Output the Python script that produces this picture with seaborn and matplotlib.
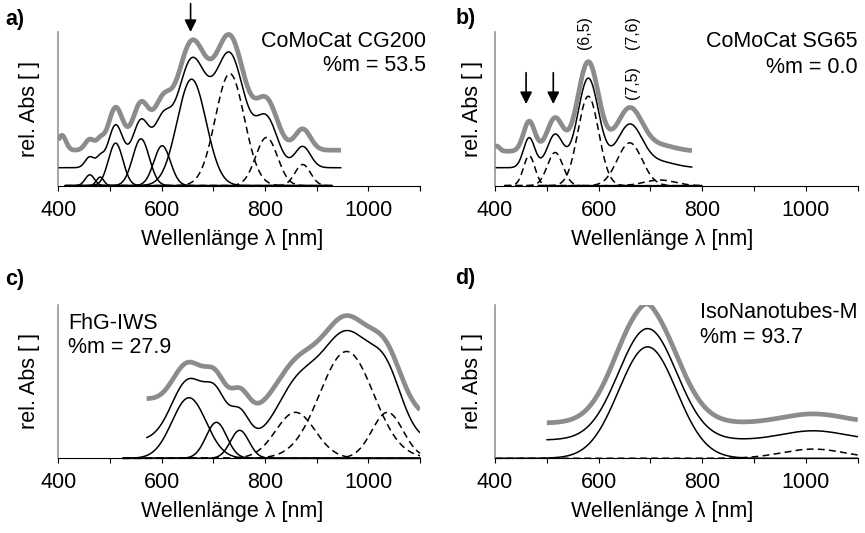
import numpy as np
import matplotlib
matplotlib.use("Agg")
import matplotlib.pyplot as plt
import seaborn as sns

# ---------------- data ----------------
wl_ticks = [400, 500, 600, 700, 800, 900, 1000, 1100]
wl_tick_labels = ["400", "", "600", "", "800", "", "1000", ""]

# Panel a: CoMoCat CG200 (Gaussian components: centre nm, height rel., width nm)
a_solid_center = [461, 481, 511, 560, 601, 658]
a_solid_height = [0.071, 0.056, 0.277, 0.305, 0.260, 0.693]
a_solid_width = [9, 7, 14, 16, 16, 28]
a_dash_center = [732, 803, 873]
a_dash_height = [0.729, 0.314, 0.138]
a_dash_width = [28, 21, 15]
a_fit_offset = 0.117
a_meas_offset = 0.114
a_extra_center = [407]
a_extra_height = [0.097]
a_extra_width = [7.8]
a_comp_range = [413, 930]
a_fit_range = [400, 947]

# Panel b: CoMoCat SG65
b_solid_center = []
b_solid_height = []
b_solid_width = []
b_dash_center = [466, 516, 580, 660, 718]
b_dash_height = [0.195, 0.216, 0.582, 0.279, 0.037]
b_dash_width = [11, 15, 20, 24, 30]
b_fit_offset = 0.117
b_meas_offset = 0.107
b_extra_center = [403]
b_extra_height = [0.034]
b_extra_width = [6]
b_comp_range = [418, 800]
b_fit_range = [400, 780]

# Panel c: FhG-IWS
c_solid_center = [653, 706, 751]
c_solid_height = [0.394, 0.234, 0.182]
c_solid_width = [33, 20, 18]
c_dash_center = [859, 958, 1037]
c_dash_height = [0.299, 0.695, 0.299]
c_dash_width = [38, 52, 30]
c_fit_offset = 0.117
c_meas_offset = 0.097
c_extra_center = [560, 800, 1100]
c_extra_height = [0.162, 0.071, 0.052]
c_extra_width = [40, 40, 40]
c_comp_range = [525, 1100]
c_fit_range = [571, 1100]

# Panel d: IsoNanotubes-M
d_solid_center = [694.5]
d_solid_height = [0.725]
d_solid_width = [56]
d_dash_center = [1014]
d_dash_height = [0.060]
d_dash_width = [60]
d_fit_offset = 0.119
d_meas_offset = 0.110
d_extra_center = [650, 694]
d_extra_height = [0.045, 0.025]
d_extra_width = [40, 12]
d_comp_range = [400, 1100]
d_fit_range = [500, 1100]

names = ["CoMoCat CG200", "CoMoCat SG65", "FhG-IWS", "IsoNanotubes-M"]
pct_m = ["53.5", "0.0", "27.9", "93.7"]
letters = ["a)", "b)", "c)", "d)"]
chir_labels = ["(6,5)", "(7,5)", "(7,6)"]
chir_x = [573.5, 664.5, 664.5]
arrow_a_x = [656]
arrow_b_x = [460, 512.5]

# ---------------- style ----------------
sns.set_theme(style="ticks")
plt.rcParams["font.family"] = ["Liberation Sans", "DejaVu Sans"]
plt.rcParams["text.color"] = "black"
plt.rcParams["axes.labelcolor"] = "black"
plt.rcParams["xtick.color"] = "black"

FS = 15.5
W, H = 865, 533
fig = plt.figure(figsize=(W / 100, H / 100), dpi=100)


def fx(px):
    return px / W


def fy(py):
    return 1 - py / H


GRAY = "#8c8c8c"


def gauss(x, c, h, w):
    return h * np.exp(-((x - c) ** 2) / (2.0 * w ** 2))


def draw_panel(ax, sc, sh, sw, dc, dh, dw, fit_off, meas_off, ec, eh, ew,
               comp_range, fit_range, right_col):
    xc = np.arange(comp_range[0], comp_range[1] + 0.5, 1.0)
    xf = np.arange(fit_range[0], fit_range[1] + 0.5, 1.0)
    fit = np.full_like(xf, fit_off)
    for c, h, w in zip(sc, sh, sw):
        sns.lineplot(x=xc, y=gauss(xc, c, h, w), ax=ax, color="black",
                     lw=1.1, errorbar=None, clip_on=False)
        fit = fit + gauss(xf, c, h, w)
    for c, h, w in zip(dc, dh, dw):
        sns.lineplot(x=xc, y=gauss(xc, c, h, w), ax=ax, color="black",
                     lw=1.1, errorbar=None, linestyle=(0, (4.5, 2.8)),
                     clip_on=False)
        fit = fit + gauss(xf, c, h, w)
    sns.lineplot(x=xf, y=fit, ax=ax, color="black", lw=1.1, errorbar=None)
    meas = fit + meas_off
    for c, h, w in zip(ec, eh, ew):
        meas = meas + gauss(xf, c, h, w)
    sns.lineplot(x=xf, y=meas, ax=ax, color=GRAY, lw=3.4, errorbar=None,
                 solid_capstyle="butt", solid_joinstyle="round")

    ax.set_xlim(400, 1100)
    ax.set_ylim(0, 1.0)
    ax.set_xticks(wl_ticks)
    ax.set_xticklabels(wl_tick_labels)
    ax.tick_params(axis="x", direction="out", length=3.6, width=0.8,
                   pad=6.5, labelsize=FS, colors="black")
    ax.tick_params(axis="y", left=False, labelleft=False)
    ax.set_yticks([])
    for s in ["top", "right"]:
        ax.spines[s].set_visible(False)
    ax.spines["bottom"].set_color("black")
    ax.spines["bottom"].set_linewidth(0.8)
    ax.spines["left"].set_color(GRAY)
    ax.spines["left"].set_linewidth(1.1)
    ax.set_xlabel("Wellenlänge λ [nm]", fontsize=FS, color="black")
    ax.set_ylabel("rel. Abs [ ]", fontsize=FS, color="black")
    ax.xaxis.set_label_coords(0.462 if right_col else 0.48, -0.28)
    ax.yaxis.set_label_coords(-0.033 if right_col else -0.05, 0.5)


# axes geometry (pixels)
ax_h = 153.7
ax_a = fig.add_axes([fx(58.3), fy(185.7), fx(420 - 58.3), ax_h / H])
ax_b = fig.add_axes([fx(495), fy(185.7), fx(857.7 - 495), ax_h / H])
ax_c = fig.add_axes([fx(58.3), fy(458.3), fx(420 - 58.3), ax_h / H])
ax_d = fig.add_axes([fx(495), fy(458.3), fx(857.7 - 495), ax_h / H])

draw_panel(ax_a, a_solid_center, a_solid_height, a_solid_width,
           a_dash_center, a_dash_height, a_dash_width, a_fit_offset,
           a_meas_offset, a_extra_center, a_extra_height, a_extra_width,
           a_comp_range, a_fit_range, False)
draw_panel(ax_b, b_solid_center, b_solid_height, b_solid_width,
           b_dash_center, b_dash_height, b_dash_width, b_fit_offset,
           b_meas_offset, b_extra_center, b_extra_height, b_extra_width,
           b_comp_range, b_fit_range, True)
draw_panel(ax_c, c_solid_center, c_solid_height, c_solid_width,
           c_dash_center, c_dash_height, c_dash_width, c_fit_offset,
           c_meas_offset, c_extra_center, c_extra_height, c_extra_width,
           c_comp_range, c_fit_range, False)
draw_panel(ax_d, d_solid_center, d_solid_height, d_solid_width,
           d_dash_center, d_dash_height, d_dash_width, d_fit_offset,
           d_meas_offset, d_extra_center, d_extra_height, d_extra_width,
           d_comp_range, d_fit_range, True)

# panel letters
fig.text(fx(5), fy(25), letters[0], fontsize=FS, fontweight="bold", va="baseline")
fig.text(fx(456), fy(24), letters[1], fontsize=FS, fontweight="bold", va="baseline")
fig.text(fx(5), fy(285), letters[2], fontsize=FS, fontweight="bold", va="baseline")
fig.text(fx(455), fy(284), letters[3], fontsize=FS, fontweight="bold", va="baseline")

# sample names
fig.text(fx(426), fy(46.7), names[0], fontsize=FS, ha="right", va="baseline")
fig.text(fx(426), fy(70.5), "%m = " + pct_m[0], fontsize=FS, ha="right", va="baseline")
fig.text(fx(858), fy(46.7), names[1], fontsize=FS, ha="right", va="baseline")
fig.text(fx(858), fy(73), "%m = " + pct_m[1], fontsize=FS, ha="right", va="baseline")
fig.text(fx(68.3), fy(329), names[2], fontsize=FS, ha="left", va="baseline")
fig.text(fx(68.3), fy(353.3), "%m = " + pct_m[2], fontsize=FS, ha="left", va="baseline")
fig.text(fx(700), fy(318.3), names[3], fontsize=FS, ha="left", va="baseline")
fig.text(fx(700), fy(343.3), "%m = " + pct_m[3], fontsize=FS, ha="left", va="baseline")

# chirality labels in b
chir_y = [0.889, 0.564, 0.892]
for lab, xx, yy in zip(chir_labels, chir_x, chir_y):
    ax_b.text(xx, yy, lab, rotation=90, ha="center", va="bottom", fontsize=11.5,
              transform=ax_b.get_xaxis_transform())

# arrows
arrow_kw = dict(arrowstyle="-|>", color="black", lw=1.2, mutation_scale=18,
                shrinkA=0, shrinkB=0)
for xx in arrow_a_x:
    ax_a.annotate("", xy=(xx, 1.0), xytext=(xx, 1.185),
                  xycoords=ax_a.get_xaxis_transform(),
                  textcoords=ax_a.get_xaxis_transform(),
                  arrowprops=arrow_kw, annotation_clip=False)
for xx in arrow_b_x:
    ax_b.annotate("", xy=(xx, 0.531), xytext=(xx, 0.735),
                  xycoords=ax_b.get_xaxis_transform(),
                  textcoords=ax_b.get_xaxis_transform(),
                  arrowprops=arrow_kw, annotation_clip=False)

fig.savefig("out.png", dpi=100)
